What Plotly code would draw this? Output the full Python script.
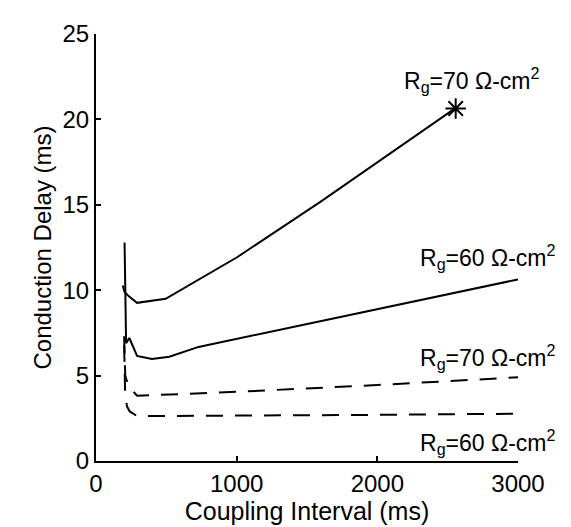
import plotly.graph_objects as go

# Solid curves (conduction delay, ms) vs coupling interval (ms)
ci_70_solid = [190, 203, 234, 292, 495, 1003, 1600, 2545]
cd_70_solid = [10.27, 9.9, 9.64, 9.26, 9.50, 11.93, 15.2, 20.6]
ci_60_solid = [203, 210, 214, 237, 292, 398, 521, 729, 1003, 1979, 3000]
cd_60_solid = [12.79, 9.0, 6.9, 7.2, 6.15, 5.97, 6.10, 6.68, 7.16, 8.87, 10.63]

# Dashed curves
ci_70_dash = [200, 205, 208, 215, 240, 292, 1000, 2000, 3000]
cd_70_dash = [7.3, 6.0, 5.0, 4.8, 4.3, 3.82, 4.05, 4.45, 4.9]
ci_60_dash = [200, 203, 207, 220, 240, 292, 1000, 2000, 3000]
cd_60_dash = [6.8, 5.5, 4.0, 3.2, 2.9, 2.63, 2.65, 2.70, 2.77]

# Conduction block marker
block_ci = [2557]
block_cd = [20.64]

x_ticks = [0, 1000, 2000, 3000]
y_ticks = [0, 5, 10, 15, 20, 25]

labels = ["R<sub>g</sub>=70 Ω-cm<sup>2</sup>", "R<sub>g</sub>=60 Ω-cm<sup>2</sup>",
          "R<sub>g</sub>=70 Ω-cm<sup>2</sup>", "R<sub>g</sub>=60 Ω-cm<sup>2</sup>"]
label_right_paper = [1.058, 1.095, 1.095, 1.095]
label_y = [22.33, 11.93, 6.08, 1.09]

FONT = "Liberation Sans, Arial, Helvetica, sans-serif"

fig = go.Figure()
solid = dict(color="black", width=2)
dashed = dict(color="black", width=2, dash="17px,12px")
fig.add_trace(go.Scatter(x=ci_70_solid, y=cd_70_solid, mode="lines", line=solid))
fig.add_trace(go.Scatter(x=ci_60_solid, y=cd_60_solid, mode="lines", line=solid))
fig.add_trace(go.Scatter(x=ci_70_dash, y=cd_70_dash, mode="lines", line=dashed))
fig.add_trace(go.Scatter(x=ci_60_dash, y=cd_60_dash, mode="lines", line=dashed))
fig.add_trace(go.Scatter(x=block_ci, y=block_cd, mode="markers", cliponaxis=False,
                         marker=dict(symbol="asterisk-open", size=17, color="black",
                                     line=dict(color="black", width=2))))

for t, lx, ly in zip(labels, label_right_paper, label_y):
    fig.add_annotation(x=lx, xref="paper", y=ly, yref="y", text=t, showarrow=False,
                       xanchor="right", font=dict(family=FONT, size=23, color="black"))

fig.update_layout(
    width=571, height=527,
    margin=dict(l=88, r=61, t=17, b=74),
    paper_bgcolor="white", plot_bgcolor="white",
    showlegend=False,
    font=dict(family=FONT, size=24, color="black"),
)
fig.update_xaxes(range=[0, 3000], tickvals=x_ticks, showline=True, linecolor="black",
                 linewidth=2, ticks="inside", ticklen=5, tickwidth=2, tickcolor="black",
                 showgrid=False, zeroline=False,
                 title=dict(text="Coupling Interval (ms)", standoff=2, font=dict(size=25)))
fig.update_yaxes(range=[0, 25], tickvals=y_ticks, showline=True, linecolor="black",
                 linewidth=2, ticks="inside", ticklen=5, tickwidth=2, tickcolor="black",
                 showgrid=False, zeroline=False,
                 title=dict(text="Conduction Delay (ms)", standoff=4, font=dict(size=24)))

fig.write_html("out.html")
